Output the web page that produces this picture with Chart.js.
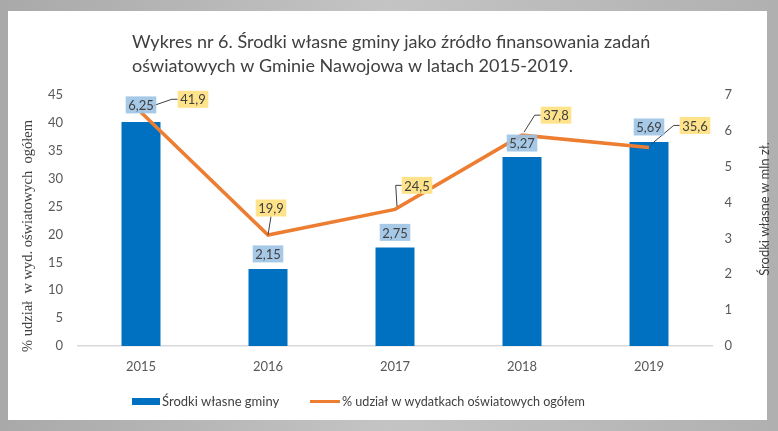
<!DOCTYPE html>
<html>
<head>
<meta charset="utf-8">
<script src="https://cdn.jsdelivr.net/npm/chart.js@4.4.1/dist/chart.umd.min.js"></script>
<style>
  html, body { margin: 0; padding: 0; background: #b9b9b9; }
  canvas { display: block; }
</style>
</head>
<body>
<canvas id="myChart" width="778" height="431"></canvas>
<script>
const years = ["2015", "2016", "2017", "2018", "2019"];
const ownFunds = [6.25, 2.15, 2.75, 5.27, 5.69];          // mln zł, right axis
const shareOfSpending = [41.9, 19.9, 24.5, 37.8, 35.6];   // %, left axis

// where each data label sits relative to its mark (px)
const fundOffsets = [[0, -17], [0, -15], [0, -15], [0, -14], [0, -15]];
const shareOffsets = [[52, -13], [3, -27], [22, -24], [34, -20], [46, -22]];

const FONT = "Lato, 'Open Sans', sans-serif";
const fmt = (v, d) => v.toFixed(d).replace(".", ",");

const decor = {
  id: "decor",
  beforeDraw(chart) {
    const ctx = chart.ctx;
    ctx.save();
    const g = ctx.createLinearGradient(0, 0, 778, 0);
    g.addColorStop(0, "#a9a9a9");
    g.addColorStop(0.5, "#c4c4c4");
    g.addColorStop(1, "#b0b0b0");
    ctx.fillStyle = g;
    ctx.fillRect(0, 0, 778, 431);
    ctx.fillStyle = "#ffffff";
    ctx.fillRect(8, 11, 759, 409);

    // title, left aligned lines
    ctx.fillStyle = "#404040";
    ctx.font = "18px " + FONT;
    ctx.textAlign = "left";
    ctx.textBaseline = "middle";
    ctx.fillText("Wykres nr 6. Środki własne gminy jako źródło finansowania zadań", 132, 42);
    ctx.fillText("oświatowych w Gminie Nawojowa w latach 2015-2019.", 132, 66);

    // axis titles
    ctx.save();
    ctx.translate(28, 236);
    ctx.rotate(-Math.PI / 2);
    ctx.textAlign = "center";
    ctx.font = "14.5px 'Liberation Serif', serif";
    ctx.fillText("% udział  w wyd. oświatowych  ogółem", 0, 0);
    ctx.restore();

    ctx.save();
    ctx.translate(765, 209);
    ctx.rotate(-Math.PI / 2);
    ctx.textAlign = "center";
    ctx.font = "13px " + FONT;
    ctx.fillText("Środki własne w mln zł.", 0, 0);
    ctx.restore();

    // legend
    ctx.font = "13px " + FONT;
    ctx.textAlign = "left";
    ctx.fillStyle = "#0070C0";
    ctx.fillRect(132, 398, 28, 7);
    ctx.fillStyle = "#404040";
    ctx.fillText("Środki własne gminy", 162, 402);
    ctx.strokeStyle = "#ED7D31";
    ctx.lineWidth = 3;
    ctx.beginPath();
    ctx.moveTo(310, 401.5);
    ctx.lineTo(340, 401.5);
    ctx.stroke();
    ctx.font = "12.6px " + FONT;
    ctx.fillText("% udział w wydatkach oświatowych ogółem", 342, 402);
    ctx.restore();
  },
  afterDatasetsDraw(chart) {
    const ctx = chart.ctx;
    const line = chart.getDatasetMeta(0).data;
    const bars = chart.getDatasetMeta(1).data;
    ctx.save();
    ctx.font = "13px " + FONT;
    ctx.textAlign = "center";
    ctx.textBaseline = "middle";

    const box = (text, x, y, fill) => {
      const w = ctx.measureText(text).width + 5;
      const h = 17;
      ctx.fillStyle = fill;
      ctx.fillRect(x - w / 2, y - h / 2, w, h);
      ctx.fillStyle = "#404040";
      ctx.fillText(text, x, y + 1);
      return w;
    };

    // leader lines for the percentage labels
    ctx.strokeStyle = "#404040";
    ctx.lineWidth = 1;
    line.forEach((p, i) => {
      const [dx, dy] = shareOffsets[i];
      const lx = p.x + dx, ly = p.y + dy;
      const w = ctx.measureText(fmt(shareOfSpending[i], 1)).width + 5;
      ctx.beginPath();
      if (Math.abs(dx) < 10) {
        ctx.moveTo(lx, ly + 8.5);
        ctx.lineTo(p.x, p.y);
      } else {
        ctx.moveTo(lx - w / 2, ly);
        ctx.lineTo(lx - w / 2 - 6, ly);
        ctx.lineTo(p.x + 2, p.y - 3);
      }
      ctx.stroke();
    });

    bars.forEach((b, i) => {
      const [dx, dy] = fundOffsets[i];
      box(fmt(ownFunds[i], 2), b.x + dx, b.y + dy, "rgba(157,195,230,0.9)");
    });
    line.forEach((p, i) => {
      const [dx, dy] = shareOffsets[i];
      box(fmt(shareOfSpending[i], 1), p.x + dx, p.y + dy, "#FFE38A");
    });
    ctx.restore();
  }
};

const ctx = document.getElementById("myChart").getContext("2d");

const comboChart = new Chart(ctx, {
  type: "bar",
  data: {
    labels: years,
    datasets: [
      {
        type: "line",
        label: "% udział w wydatkach oświatowych ogółem",
        data: shareOfSpending,
        yAxisID: "y",
        borderColor: "#ED7D31",
        borderWidth: 3.5,
        pointRadius: 0,
        tension: 0,
        fill: false,
        order: 1,
      },
      {
        type: "bar",
        label: "Środki własne gminy",
        data: ownFunds,
        yAxisID: "y1",
        backgroundColor: "#0070C0",
        barPercentage: 0.307,
        categoryPercentage: 1,
        order: 2,
      },
    ],
  },
  options: {
    responsive: false,
    animation: false,
    layout: { padding: { top: 95, left: 0, right: 0, bottom: 0 } },
    plugins: {
      legend: { display: false },
      title: { display: false },
      tooltip: { enabled: false },
    },
    scales: {
      x: {
        grid: { display: false, drawTicks: false },
        border: { color: "#d9d9d9", width: 1.5 },
        ticks: { color: "#595959", font: { size: 13, family: FONT }, padding: 13 },
        afterFit: (s) => { s.height = 85; },
      },
      y: {
        position: "left",
        min: 0,
        max: 45,
        grid: { display: false, drawTicks: false },
        border: { display: false },
        ticks: { stepSize: 5, color: "#595959", font: { size: 13, family: FONT }, padding: 14.5 },
        afterFit: (s) => { s.width = 77.5; },
      },
      y1: {
        position: "right",
        min: 0,
        max: 7,
        grid: { display: false, drawTicks: false },
        border: { display: false },
        ticks: { stepSize: 1, color: "#595959", font: { size: 13, family: FONT }, padding: 12 },
        afterFit: (s) => { s.width = 65.5; },
      },
    },
  },
  plugins: [decor],
});
</script>
</body>
</html>
